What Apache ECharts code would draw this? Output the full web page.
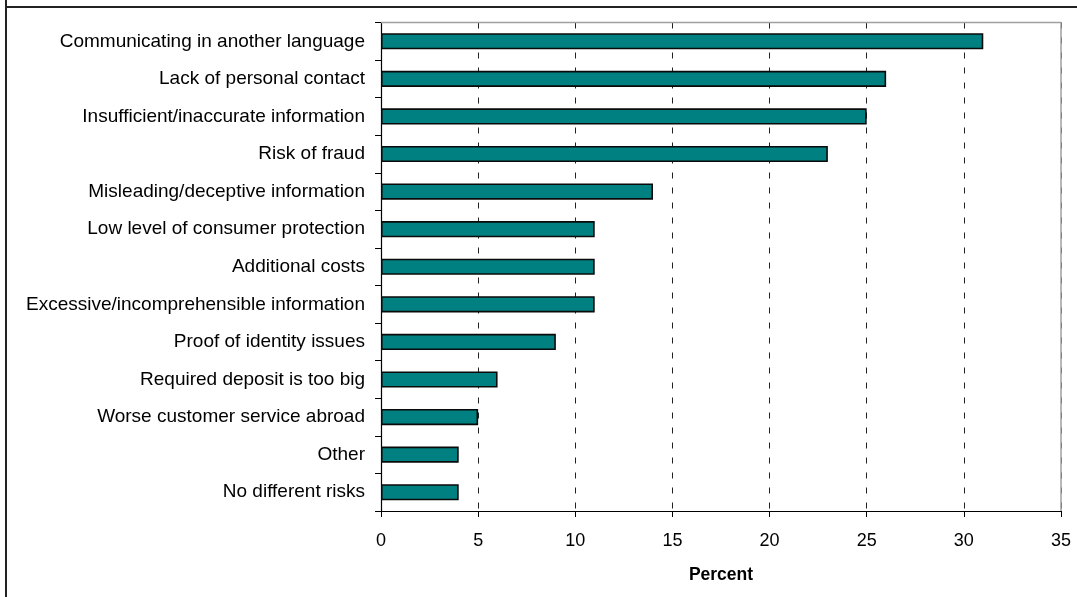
<!DOCTYPE html>
<html>
<head>
<meta charset="utf-8">
<script src="https://cdn.jsdelivr.net/npm/echarts@6/dist/echarts.min.js"></script>
<style>
html,body{margin:0;padding:0;background:#fff;}
#chart{width:1077px;height:597px;}
</style>
</head>
<body>
<div id="chart"></div>
<script>
var categories = [
  "Communicating in another language",
  "Lack of personal contact",
  "Insufficient/inaccurate information",
  "Risk of fraud",
  "Misleading/deceptive information",
  "Low level of consumer protection",
  "Additional costs",
  "Excessive/incomprehensible information",
  "Proof of identity issues",
  "Required deposit is too big",
  "Worse customer service abroad",
  "Other",
  "No different risks"
];
var percentValues = [31, 26, 25, 23, 14, 11, 11, 11, 9, 6, 5, 4, 4];
var xAxisName = "Percent";

var chart = echarts.init(document.getElementById('chart'), null, {renderer: 'canvas'});
var FONT = '"Liberation Sans", Arial, sans-serif';
chart.setOption({
  animation: false,
  backgroundColor: '#ffffff',
  grid: {
    left: 381, right: 16, top: 22.5, bottom: 86,
    show: false
  },
  xAxis: {
    type: 'value',
    min: 0, max: 35, interval: 5,
    name: xAxisName,
    nameLocation: 'middle',
    nameGap: 55,
    nameTextStyle: {fontFamily: FONT, fontSize: 17.5, fontWeight: 'bold', color: '#000'},
    axisLine: {show: true, lineStyle: {color: '#000', width: 1.2}},
    axisTick: {show: true, length: 6, lineStyle: {color: '#000'}},
    axisLabel: {fontFamily: FONT, fontSize: 18, color: '#000', margin: 21},
    splitLine: {show: true, lineStyle: {color: '#222', width: 1, type: [6, 9]}}
  },
  yAxis: {
    type: 'category',
    data: categories,
    inverse: true,
    axisLine: {show: true, lineStyle: {color: '#000', width: 1.2}},
    axisTick: {show: true, length: 6, lineStyle: {color: '#000'}},
    axisLabel: {fontFamily: FONT, fontSize: 19, color: '#000', margin: 16},
    splitLine: {show: false}
  },
  series: [{
    type: 'bar',
    data: percentValues,
    barWidth: '43%',
    itemStyle: {color: '#008080', borderColor: '#0a0a0a', borderWidth: 1.6}
  }],
  graphic: [
    {type: 'line', z: 100, shape: {x1: 6, y1: 0, x2: 6, y2: 597}, style: {stroke: '#222', lineWidth: 2}},
    {type: 'line', z: 100, shape: {x1: 6, y1: 7, x2: 1077, y2: 7}, style: {stroke: '#222', lineWidth: 2}},
    {type: 'line', z: 100, shape: {x1: 381, y1: 22.5, x2: 1061, y2: 22.5}, style: {stroke: '#a0a0a0', lineWidth: 1.5}},
    {type: 'line', z: 100, shape: {x1: 1061, y1: 22.5, x2: 1061, y2: 511}, style: {stroke: '#a0a0a0', lineWidth: 1.5}}
  ]
});
</script>
</body>
</html>
